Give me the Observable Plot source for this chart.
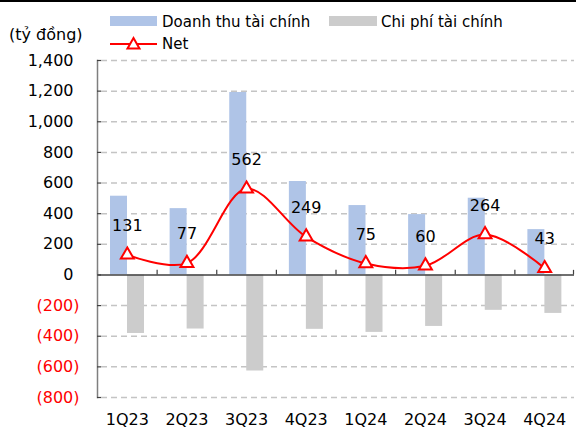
<!DOCTYPE html>
<html>
<head>
<meta charset="utf-8">
<script src="https://cdn.jsdelivr.net/npm/d3@7"></script>
<script src="https://cdn.jsdelivr.net/npm/@observablehq/plot@0.6"></script>
<style>
  html, body { margin: 0; padding: 0; background: #fff; }
  body { width: 576px; height: 432px; overflow: hidden; font-family: "DejaVu Sans", sans-serif; color: #000; }
  #head { position: relative; width: 576px; height: 48px; }
  #head .bar { position: absolute; left: 0; top: 0; width: 576px; height: 2px; background: #000; }
  #head .t { position: absolute; font-size: 15px; line-height: 20px; white-space: nowrap; }
  #head .sw { position: absolute; }
</style>
</head>
<body>
<div id="head">
  <div class="bar"></div>
  <div class="t" style="left:9px; top:25px; font-size:16px;">(tỷ đồng)</div>
  <div class="sw" style="left:110px; top:16px; width:47px; height:10px; background:#afc4e7;"></div>
  <div class="t" style="left:162px; top:12px;">Doanh thu tài chính</div>
  <div class="sw" style="left:329px; top:16px; width:48px; height:10px; background:#cccccc;"></div>
  <div class="t" style="left:381px; top:12px;">Chi phí tài chính</div>
  <svg class="sw" style="left:110px; top:35px;" width="47" height="18">
    <line x1="0" y1="9" x2="47" y2="9" stroke="#ff0000" stroke-width="2"></line>
    <path d="M23.5,3 L29.5,13.5 L17.5,13.5 Z" fill="#fff" stroke="#ff0000" stroke-width="2"></path>
  </svg>
  <div class="t" style="left:162px; top:34px;">Net</div>
</div>
<div id="chart"></div>
<script>
const quarters = ["1Q23", "2Q23", "3Q23", "4Q23", "1Q24", "2Q24", "3Q24", "4Q24"];
const revenue = [514, 433, 1191, 610, 453, 394, 501, 296];
const expense = [-382, -353, -627, -355, -375, -336, -231, -251];
const net = [131, 77, 562, 249, 75, 60, 264, 43];
const posTicks = [0, 200, 400, 600, 800, 1000, 1200, 1400];
const negTicks = [-200, -400, -600, -800];

const rows = quarters.map((q, i) => ({q, revenue: revenue[i], expense: expense[i], net: net[i]}));

const W = 576, H = 384, ML = 97, MR = 2, MT = 12, MB = 35;
const bw = (W - ML - MR) / quarters.length;
const fmt = d3.format(",");
const gridTicks = posTicks.filter(d => d !== 0).concat(negTicks);

const plot = Plot.plot({
  width: W,
  height: H,
  marginLeft: ML,
  marginRight: MR,
  marginTop: MT,
  marginBottom: MB,
  style: {fontFamily: "DejaVu Sans, sans-serif", fontSize: "16px", color: "#000", background: "#fff"},
  x: {type: "band", domain: quarters, padding: 0, round: false, label: null},
  y: {domain: [-800, 1400], label: null},
  marks: [
    Plot.ruleY(gridTicks, {y: d => d, stroke: "#c4c4c4", strokeWidth: 1.5, strokeDasharray: "6 4", insetLeft: 4}),
    Plot.barY(rows, {x: "q", y: "revenue", fill: "#afc4e7", insetLeft: 13, insetRight: bw - 30}),
    Plot.barY(rows, {x: "q", y: "expense", fill: "#cccccc", insetLeft: 30, insetRight: bw - 47}),
    Plot.ruleY([0], {stroke: "#404040", strokeWidth: 1.5}),
    Plot.ruleX(quarters, {x: d => d, y1: 0, y2: 30, dx: -bw / 2, stroke: "#404040", strokeWidth: 1.2}),
    Plot.ruleX(quarters.slice(-1), {x: d => d, y1: 0, y2: 30, dx: bw / 2 - 1, stroke: "#404040", strokeWidth: 1.2}),
    Plot.frame({anchor: "left", stroke: "#7f7f7f", strokeWidth: 1.5}),
    Plot.tickY(posTicks.concat(negTicks), {y: d => d, stroke: "#404040", strokeWidth: 1.2, insetRight: W - ML - MR - 4}),
    Plot.line(rows, {x: "q", y: "net", stroke: "#ff0000", strokeWidth: 2, curve: "catmull-rom"}),
    Plot.dot(rows, {x: "q", y: "net", symbol: "triangle", r: 4.8, stroke: "#ff0000", strokeWidth: 2, fill: "#fff"}),
    Plot.text(rows, {x: "q", y: "net", text: d => String(d.net), dy: -29, fontSize: 16, fill: "#000"}),
    Plot.axisY(posTicks, {tickSize: 0, tickPadding: 24, tickFormat: fmt, fontSize: 16, fill: "#000"}),
    Plot.axisY(negTicks, {tickSize: 0, tickPadding: 18, tickFormat: d => `(${fmt(-d)})`, fontSize: 16, fill: "#ff0000"}),
    Plot.axisX({tickSize: 0, tickPadding: 16, fontSize: 16, fill: "#000"})
  ]
});
document.getElementById("chart").appendChild(plot);
</script>
</body>
</html>
